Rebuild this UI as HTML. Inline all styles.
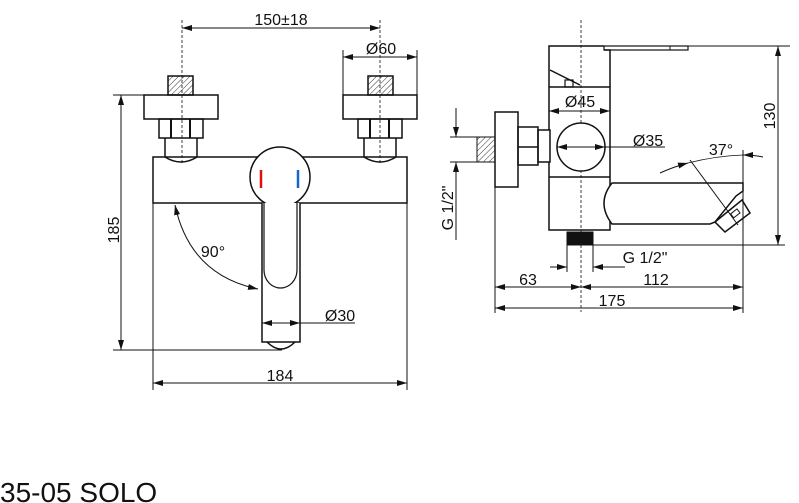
<!DOCTYPE html>
<html><head><meta charset="utf-8"><style>
html,body{margin:0;padding:0;background:#fff;width:799px;height:503px;overflow:hidden}
svg{display:block}
text{font-family:"Liberation Sans",Arial,sans-serif;fill:#111}
</style></head><body>
<svg width="799" height="503" viewBox="0 0 799 503" xmlns="http://www.w3.org/2000/svg">
<defs>
<pattern id="h" width="4" height="4" patternUnits="userSpaceOnUse" patternTransform="rotate(45)"><line x1="0" y1="0" x2="0" y2="4" stroke="#333" stroke-width="1"/></pattern>
<marker id="a" viewBox="0 0 10 6" refX="10" refY="3" markerWidth="10" markerHeight="6" markerUnits="userSpaceOnUse" orient="auto-start-reverse"><path d="M0,0 L10,3 L0,6 z" fill="#111"/></marker>
</defs>
<g fill="none" stroke="#111" stroke-width="1">
<!-- LEFT VIEW -->
<line x1="182" y1="20" x2="182" y2="165" stroke-dasharray="3,2" stroke-width="0.8"/>
<line x1="380" y1="20" x2="380" y2="165" stroke-dasharray="3,2" stroke-width="0.8"/>
<line x1="182" y1="28" x2="380" y2="28" marker-start="url(#a)" marker-end="url(#a)"/>
<line x1="343" y1="50" x2="343" y2="95"/><line x1="417" y1="50" x2="417" y2="115"/>
<line x1="343" y1="57" x2="417" y2="57" marker-start="url(#a)" marker-end="url(#a)"/>
<rect x="168" y="76" width="25" height="19" fill="url(#h)" stroke-width="1.5"/>
<rect x="368" y="76" width="25" height="19" fill="url(#h)" stroke-width="1.5"/>
<rect x="144" y="95" width="74" height="24" stroke-width="1.5"/>
<rect x="343" y="95" width="74" height="24" stroke-width="1.5"/>
<rect x="159" y="119" width="44" height="19" stroke-width="1.5"/>
<rect x="358" y="119" width="44" height="19" stroke-width="1.5"/>
<line x1="171" y1="119" x2="171" y2="138" stroke-width="2"/><line x1="190" y1="119" x2="190" y2="138" stroke-width="2"/>
<line x1="370" y1="119" x2="370" y2="138" stroke-width="2"/><line x1="389" y1="119" x2="389" y2="138" stroke-width="2"/>
<path d="M165,138 V157 Q181,167 197,157 V138" stroke-width="1.5"/>
<path d="M364,138 V157 Q380,167 396,157 V138" stroke-width="1.5"/>
<rect x="153" y="157" width="254" height="46" stroke-width="1.5" fill="none"/>
<circle cx="280" cy="177" r="30" fill="#fff" stroke-width="1.5"/>
<path d="M262,203 V342 H300 V203" fill="#fff" stroke-width="1.5"/>
<path d="M264,203 V270 A16.5,18 0 0 0 297,270 V203" stroke-width="1.2"/>
<path d="M267,342 Q281,356 295,342" stroke-width="1.5"/>
<line x1="262" y1="323" x2="280" y2="323" marker-start="url(#a)"/>
<line x1="280" y1="323" x2="355" y2="323"/>
<line x1="286" y1="323" x2="300" y2="323" marker-end="url(#a)"/>
<line x1="113" y1="95" x2="144" y2="95"/><line x1="113" y1="350" x2="282" y2="350"/>
<line x1="121" y1="95" x2="121" y2="350" marker-start="url(#a)" marker-end="url(#a)"/>
<path d="M175,205 Q190,275 258,289" marker-start="url(#a)" marker-end="url(#a)"/>
<line x1="153" y1="203" x2="153" y2="390"/><line x1="407" y1="203" x2="407" y2="390"/>
<line x1="153" y1="383" x2="407" y2="383" marker-start="url(#a)" marker-end="url(#a)"/>
</g>
<line x1="261" y1="170" x2="261" y2="188" stroke="#d11" stroke-width="2.5"/>
<line x1="298" y1="170" x2="298" y2="188" stroke="#16c" stroke-width="2.5"/>
<text x="281" y="25" font-size="16" text-anchor="middle">150±18</text>
<text x="381" y="54" font-size="16" text-anchor="middle">Ø60</text>
<text x="340" y="321" font-size="16" text-anchor="middle">Ø30</text>
<text x="213" y="257" font-size="16" text-anchor="middle">90°</text>
<text x="280" y="381" font-size="16" text-anchor="middle">184</text>
<text transform="translate(119,230) rotate(-90)" font-size="16" text-anchor="middle">185</text>

<g fill="none" stroke="#111" stroke-width="1">
<!-- RIGHT VIEW -->
<line x1="581" y1="20" x2="581" y2="312" stroke-dasharray="3,2" stroke-width="0.8"/>
<path d="M549,87 V70 L549,46 H604 M604,50 H610 V87" stroke-width="1.5"/>
<rect x="604" y="46" width="84" height="4" stroke-width="1.2"/>
<line x1="670" y1="46" x2="670" y2="50"/>
<path d="M550,70 L580,85" stroke-width="1.5"/>
<rect x="565" y="80" width="8" height="7" stroke-width="1.2"/>
<rect x="549" y="87" width="61" height="143" stroke-width="1.5"/>
<line x1="549" y1="177" x2="610" y2="177" stroke-width="1.5"/>
<line x1="549" y1="111" x2="610" y2="111" marker-start="url(#a)" marker-end="url(#a)"/>
<rect x="538" y="130" width="12" height="32" fill="#fff" stroke-width="1.5"/>
<circle cx="581" cy="147" r="24" fill="#fff" stroke-width="1.5"/>
<line x1="557" y1="147" x2="574" y2="147" marker-start="url(#a)"/>
<line x1="588" y1="147" x2="605" y2="147" marker-end="url(#a)"/>
<line x1="574" y1="147" x2="665" y2="147"/>
<rect x="518" y="127" width="20" height="38" stroke-width="1.5"/>
<line x1="518" y1="147" x2="538" y2="147" stroke-width="1.5"/>
<rect x="495" y="112" width="23" height="75" stroke-width="1.5"/>
<rect x="477" y="137" width="18" height="25" fill="url(#h)" stroke-width="1"/>
<line x1="450" y1="137" x2="477" y2="137"/><line x1="450" y1="162" x2="477" y2="162"/>
<line x1="456" y1="108" x2="456" y2="137" marker-end="url(#a)"/>
<line x1="456" y1="162" x2="456" y2="240" marker-start="url(#a)"/>
<path d="M612,183 H743 V191 L736,196 L715,222 L710,224 H612 Q596,203 612,183 Z" fill="#fff" stroke-width="1.5"/>
<polygon points="715,222 742,200 750,213 725,232" fill="#fff" stroke-width="1.5"/>
<rect x="731" y="211" width="8" height="5" transform="rotate(-38 735 213)" stroke-width="1"/>
<rect x="567" y="232" width="26" height="13" fill="#111" stroke-width="1"/>
<line x1="593" y1="245" x2="785" y2="245"/>
<line x1="688" y1="46" x2="790" y2="46"/>
<line x1="778" y1="46" x2="778" y2="245" marker-start="url(#a)" marker-end="url(#a)"/>
<path d="M660,173 Q673,167 688,163" marker-end="url(#a)"/>
<path d="M688,163 Q715,156 743,155" stroke-width="0.7"/>
<path d="M763,157 Q754,155 743,155" marker-end="url(#a)"/>
<line x1="690" y1="160" x2="738" y2="225"/>
<line x1="743" y1="150" x2="743" y2="313"/>
<line x1="567" y1="245" x2="567" y2="272"/><line x1="593" y1="245" x2="593" y2="272"/>
<line x1="550" y1="267" x2="567" y2="267" marker-end="url(#a)"/>
<line x1="593" y1="267" x2="625" y2="267" marker-start="url(#a)"/>
<line x1="495" y1="187" x2="495" y2="313"/>
<line x1="495" y1="287" x2="581" y2="287" marker-start="url(#a)" marker-end="url(#a)"/>
<line x1="581" y1="287" x2="743" y2="287" marker-start="url(#a)" marker-end="url(#a)"/>
<line x1="495" y1="308" x2="743" y2="308" marker-start="url(#a)" marker-end="url(#a)"/>
</g>
<text x="580" y="107" font-size="16" text-anchor="middle">Ø45</text>
<text x="648" y="146" font-size="16" text-anchor="middle">Ø35</text>
<text x="721" y="155" font-size="16" text-anchor="middle">37°</text>
<text x="645" y="263" font-size="16" text-anchor="middle">G 1/2"</text>
<text x="528" y="285" font-size="16" text-anchor="middle">63</text>
<text x="656" y="285" font-size="16" text-anchor="middle">112</text>
<text x="612" y="306" font-size="16" text-anchor="middle">175</text>
<text transform="translate(453,208) rotate(-90)" font-size="16" text-anchor="middle">G 1/2"</text>
<text transform="translate(775,116) rotate(-90)" font-size="16" text-anchor="middle">130</text>
<text x="0" y="502" font-size="28">35-05 SOLO</text>
</svg>
</body></html>
